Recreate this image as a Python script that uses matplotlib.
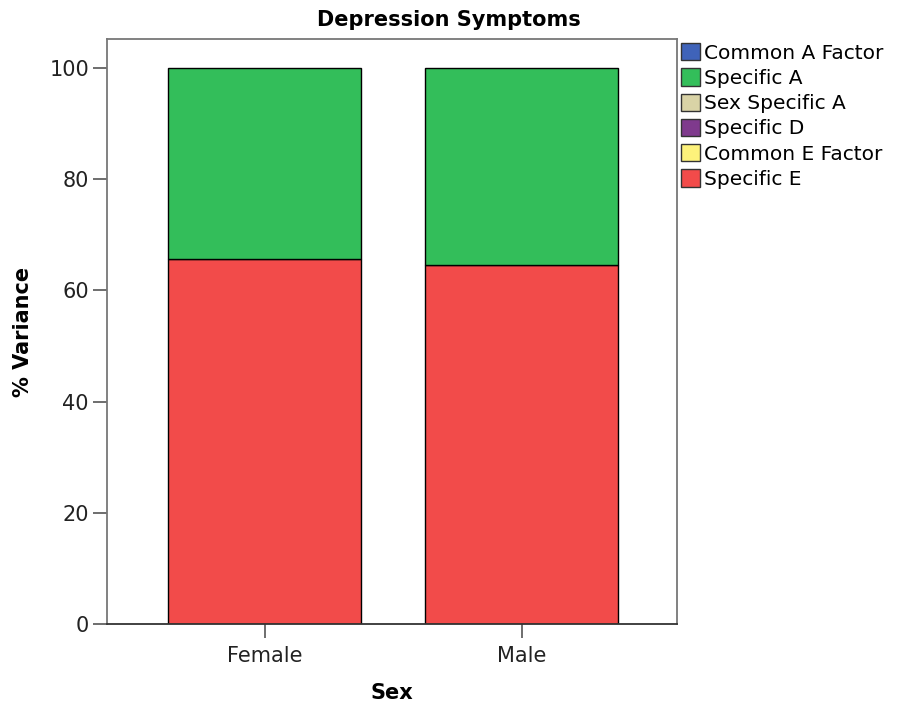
"""Stacked % variance bars for depression symptoms by sex."""

import matplotlib

matplotlib.use("Agg")
import matplotlib.pyplot as plt
from matplotlib.patches import Patch

sexes = ["Female", "Male"]
components = [
    "Common A Factor",
    "Specific A",
    "Sex Specific A",
    "Specific D",
    "Common E Factor",
    "Specific E",
]
colors = ["#3f63b9", "#33be5a", "#d9d3a6", "#7f3a8d", "#fdf27b", "#f24b4a"]
variance = {
    "Common A Factor": [0.0, 0.0],
    "Specific A": [34.4, 35.4],
    "Sex Specific A": [0.0, 0.0],
    "Specific D": [0.0, 0.0],
    "Common E Factor": [0.0, 0.0],
    "Specific E": [65.6, 64.6],
}
yticks = [0, 20, 40, 60, 80, 100]

plt.rcParams["font.family"] = ["DejaVu Sans"]
fig = plt.figure(figsize=(8.97, 7.06), dpi=100)
ax = fig.add_axes([0.1193, 0.1161, 0.6355, 0.8286])

xs = list(range(len(sexes)))
bottom = [0.0] * len(sexes)
# stack from the bottom of the legend upwards
for name, color in reversed(list(zip(components, colors))):
    vals = variance[name]
    if any(vals):
        ax.bar(xs, vals, bottom=bottom, width=0.75, color=color,
               edgecolor="black", linewidth=1.0)
    bottom = [b + v for b, v in zip(bottom, vals)]

ax.set_xlim(-0.613, 1.605)
ax.set_ylim(0, 105.2)
ax.set_xticks(xs)
ax.set_xticklabels(sexes, fontsize=15, color="#222222")
ax.set_yticks(yticks)
ax.set_yticklabels([str(t) for t in yticks], fontsize=15, color="#222222")
ax.tick_params(axis="y", color="#555555", length=10, width=1.2, pad=3)
ax.tick_params(axis="x", color="#555555", length=10, width=1.2, pad=6)
for side in ["left", "top", "right"]:
    ax.spines[side].set_color("#777777")
    ax.spines[side].set_linewidth(1.3)
ax.spines["bottom"].set_color("#333333")
ax.spines["bottom"].set_linewidth(1.3)

ax.set_xlabel("Sex", fontsize=15, fontweight="bold", labelpad=12)
ax.set_ylabel("% Variance", fontsize=15, fontweight="bold", labelpad=12)
fig.text(0.5, 0.972, "Depression Symptoms", ha="center", va="center",
         fontsize=15, fontweight="bold")

handles = [Patch(facecolor=c, edgecolor="#333333", linewidth=1.0)
           for c in colors]
fig.legend(handles, components, loc="upper left",
           bbox_to_anchor=(0.759, 0.939), frameon=False, fontsize=14.5,
           handlelength=0.95, handleheight=0.95, handletextpad=0.2,
           labelspacing=0.28, borderpad=0, borderaxespad=0)

fig.savefig("out.png", dpi=100)
